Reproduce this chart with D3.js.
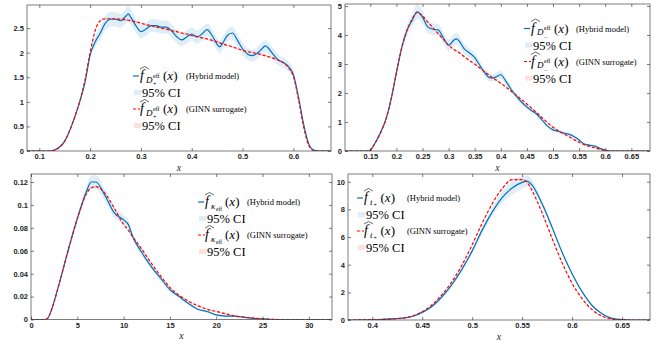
<!DOCTYPE html>
<html>
<head>
<meta charset="utf-8">
<script src="https://cdn.jsdelivr.net/npm/d3@7"></script>
<style>
  body { margin: 0; background: #fff; }
  svg { display: block; }
  .serif { font-family: "Liberation Serif", "Times New Roman", serif; }
  .tick text { font-family: "Liberation Sans", Arial, sans-serif; }
</style>
</head>
<body>
<svg id="chart" width="667" height="343"></svg>
<script>
// ---- panel 1 : D_eff+ ----
const p1X = [0.076,0.10,0.12,0.13,0.14,0.15,0.16,0.17,0.18,0.19, 0.20,0.21,0.22,0.23,0.24,0.25,0.26,0.27,0.275,0.28,
  0.29,0.30,0.31,0.32,0.33,0.34,0.35,0.36,0.37,0.38, 0.39,0.40,0.41,0.42,0.43,0.44,0.45,0.455,0.46,0.47,
  0.48,0.49,0.50,0.51,0.52,0.53,0.54,0.545,0.55,0.56, 0.57,0.58,0.59,0.60,0.61,0.62,0.63,0.64,0.65,0.674];
const p1Hybrid = [0,0,0,0.02,0.08,0.2,0.42,0.7,1.02,1.4, 1.95,2.22,2.4,2.6,2.68,2.68,2.65,2.74,2.79,2.72,
  2.55,2.43,2.48,2.55,2.55,2.52,2.52,2.45,2.33,2.26, 2.32,2.38,2.32,2.38,2.47,2.35,2.17,2.12,2.18,2.35,
  2.4,2.25,2.08,1.97,1.94,2.0,2.1,2.14,2.1,1.97, 1.85,1.8,1.72,1.55,1.1,0.55,0.15,0.02,0,0];
const p1Ginn = [0,0,0,0.02,0.08,0.2,0.42,0.7,1.02,1.45, 2.0,2.45,2.65,2.69,2.69,2.69,2.68,2.67,2.66,2.65,
  2.63,2.6,2.57,2.55,2.52,2.5,2.48,2.45,2.43,2.4, 2.38,2.35,2.33,2.3,2.28,2.25,2.22,2.2,2.18,2.15,
  2.12,2.08,2.05,2.02,2.0,1.98,1.95,1.94,1.92,1.89, 1.85,1.8,1.7,1.52,1.05,0.5,0.12,0.01,0,0];
const p1HybridCI = [0,0,0,0.01,0.02,0.03,0.04,0.05,0.06,0.07, 0.08,0.1,0.12,0.14,0.15,0.14,0.14,0.15,0.16,0.15,
  0.14,0.14,0.13,0.13,0.13,0.13,0.13,0.13,0.13,0.13, 0.13,0.13,0.13,0.13,0.13,0.13,0.13,0.13,0.13,0.13,
  0.13,0.13,0.12,0.12,0.12,0.12,0.12,0.12,0.12,0.12, 0.11,0.1,0.1,0.09,0.07,0.05,0.02,0.01,0,0];
const p1XTicks = [0.1,0.2,0.3,0.4,0.5,0.6];
const p1YTicks = [0,0.5,1,1.5,2,2.5];

// ---- panel 2 : D_eff- ----
const p2X = [0.1015,0.12,0.14,0.145,0.15,0.16,0.17,0.18,0.19,0.20, 0.21,0.22,0.23,0.24,0.25,0.26,0.27,0.28,0.29,0.30,
  0.31,0.315,0.32,0.33,0.34,0.35,0.36,0.37,0.38,0.39, 0.40,0.41,0.42,0.43,0.44,0.45,0.46,0.47,0.48,0.49,
  0.50,0.51,0.52,0.53,0.54,0.55,0.56,0.57,0.58,0.59, 0.60,0.61,0.685];
const p2Hybrid = [0,0,0,0,0.03,0.3,0.65,1.1,1.8,2.7, 3.55,4.15,4.5,4.8,4.62,4.28,4.2,4.18,3.9,3.65,
  3.82,3.87,3.8,3.52,3.38,3.22,2.95,2.68,2.52,2.55, 2.63,2.4,2.12,1.88,1.68,1.52,1.38,1.25,1.05,0.85,
  0.73,0.68,0.62,0.58,0.5,0.38,0.24,0.2,0.17,0.09, 0.03,0,0];
const p2Ginn = [0,0,0,0,0.03,0.3,0.65,1.1,1.8,2.7, 3.55,4.15,4.55,4.78,4.66,4.45,4.25,4.05,3.85,3.65,
  3.5,3.45,3.4,3.25,3.12,3.0,2.86,2.72,2.58,2.46, 2.34,2.2,2.06,1.92,1.77,1.62,1.46,1.3,1.13,0.97,
  0.82,0.7,0.6,0.5,0.4,0.3,0.22,0.16,0.11,0.06, 0.02,0,0];
const p2HybridCI = [0,0,0,0,0.02,0.05,0.08,0.1,0.12,0.15, 0.17,0.2,0.22,0.25,0.22,0.2,0.2,0.2,0.2,0.2,
  0.2,0.2,0.2,0.18,0.16,0.15,0.14,0.13,0.13,0.14, 0.15,0.12,0.1,0.08,0.07,0.07,0.06,0.06,0.06,0.06,
  0.06,0.06,0.06,0.06,0.05,0.05,0.04,0.04,0.03,0.02, 0.01,0,0];
const p2XTicks = [0.15,0.2,0.25,0.3,0.35,0.4,0.45,0.5,0.55,0.6,0.65];
const p2YTicks = [0,1,2,3,4,5];

// ---- panel 3 : kappa_eff ----
const p3X = [0,1,1.5,1.8,2,3,4,5,6,6.5, 7,8,9,10,10.5,11,12,13,14,15, 16,17,18,19,20,21,22,23,24,25, 26,27,28,32.5];
const p3Hybrid = [0,0,0,0.001,0.004,0.03,0.06,0.088,0.112,0.12, 0.12,0.108,0.093,0.087,0.083,0.072,0.058,0.046,0.036,0.026,
  0.02,0.014,0.009,0.007,0.004,0.003,0.003,0.002,0.001,0.0005, 0,0,0,0];
const p3Ginn = [0,0,0,0.001,0.004,0.03,0.06,0.088,0.11,0.115, 0.116,0.11,0.097,0.083,0.078,0.072,0.061,0.049,0.038,0.028,
  0.021,0.016,0.012,0.009,0.007,0.005,0.003,0.002,0.0012,0.0006, 0.0002,0,0,0];
const p3HybridCI = [0,0,0,0,0.001,0.002,0.003,0.004,0.005,0.006, 0.006,0.005,0.004,0.004,0.004,0.003,0.003,0.002,0.002,0.002,
  0.001,0.001,0.001,0.001,0.001,0.001,0.001,0.0005,0.0005,0, 0,0,0,0];
const p3XTicks = [0,5,10,15,20,25,30];
const p3YTicks = [0,0.02,0.04,0.06,0.08,0.1,0.12];

// ---- panel 4 : t+ ----
const p4X = [0.3757,0.40,0.41,0.42,0.43,0.44,0.45,0.46,0.47,0.48, 0.49,0.50,0.51,0.52,0.53,0.54,0.55,0.555,0.56,0.57,
  0.58,0.59,0.60,0.61,0.62,0.63,0.64,0.65,0.66,0.678];
const p4Hybrid = [0,0.01,0.04,0.08,0.13,0.25,0.55,1.0,1.7,2.6, 3.7,5.0,6.5,7.8,8.85,9.55,9.95,10.05,9.75,8.4,
  6.7,4.9,3.35,2.05,1.05,0.45,0.12,0.02,0,0];
const p4Ginn = [0,0.01,0.04,0.08,0.14,0.28,0.6,1.1,1.85,2.8, 4.0,5.45,7.0,8.4,9.5,10.15,10.15,9.95,9.35,7.75,
  5.9,4.15,2.65,1.55,0.75,0.28,0.07,0.01,0,0];
const p4HybridCI = [0,0,0.01,0.02,0.03,0.05,0.08,0.1,0.12,0.14, 0.16,0.2,0.25,0.3,0.4,0.5,0.45,0.4,0.35,0.25,
  0.2,0.15,0.12,0.1,0.07,0.04,0.02,0.01,0,0];
const p4XTicks = [0.4,0.45,0.5,0.55,0.6,0.65];
const p4YTicks = [0,2,4,6,8,10];

const legendDesc = ["(Hybrid model)", "(GINN surrogate)"];

const blue = "#0072BD", red = "#ff0000";
const axisColor = "#262626";

const panels = [
  {id: 1, xs: p1X, hy: p1Hybrid, gi: p1Ginn, ci: p1HybridCI, giCI: 0.02, xTicks: p1XTicks, yTicks: p1YTicks,
   xDomain: [0.0758, 0.674], yDomain: [0, 2.97], left: 27, right: 331, top: 5, bottom: 151,
   sub: "D+", lx: 133, ly: 76, descX: 53},
  {id: 2, xs: p2X, hy: p2Hybrid, gi: p2Ginn, ci: p2HybridCI, giCI: 0.03, xTicks: p2XTicks, yTicks: p2YTicks,
   xDomain: [0.1015, 0.6858], yDomain: [0, 5.07], left: 345, right: 650, top: 4, bottom: 151,
   sub: "D-", lx: 524, ly: 28.5, descX: 52},
  {id: 3, xs: p3X, hy: p3Hybrid, gi: p3Ginn, ci: p3HybridCI, giCI: 0.0008, xTicks: p3XTicks, yTicks: p3YTicks,
   xDomain: [0, 32.5], yDomain: [0, 0.127], left: 31, right: 332, top: 174, bottom: 319.5,
   sub: "k", lx: 198, ly: 202, descX: 49},
  {id: 4, xs: p4X, hy: p4Hybrid, gi: p4Ginn, ci: p4HybridCI, giCI: 0.06, xTicks: p4XTicks, yTicks: p4YTicks,
   xDomain: [0.3757, 0.678], yDomain: [0, 10.56], left: 348, right: 650, top: 174, bottom: 320,
   sub: "t", lx: 357, ly: 198, descX: 50}
];

const svg = d3.select("#chart");

function txt(g, x, y, size, s, italic) {
  return g.append("text").attr("class", "serif")
    .attr("x", x).attr("y", y)
    .style("font-size", size + "px")
    .style("font-style", italic ? "italic" : "normal")
    .text(s);
}

function fLabel(g, x0, yc, kind) {
  const base = yc + 4;
  txt(g, x0, base, 14, "f", true);
  g.append("path")
    .attr("d", `M${x0},${base - 11} L${x0 + 4.5},${base - 13.5} L${x0 + 9},${base - 11}`)
    .attr("fill", "none").attr("stroke", "#000").attr("stroke-width", 0.6);
  let xx = x0 + 6;
  if (kind === "D+" || kind === "D-") {
    txt(g, xx, base + 2.5, 9, "D", true);
    txt(g, xx + 7, base - 2.5, 6, "eff", false);
    txt(g, xx + 7, base + 6, 6, kind === "D+" ? "+" : "\u2212", false);
    xx += 16;
  } else if (kind === "k") {
    txt(g, xx, base + 2.5, 9, "\u03ba", true);
    txt(g, xx + 5, base + 4.5, 5.5, "eff", false);
    xx += 13;
  } else {
    txt(g, xx, base + 2.5, 9, "t", true);
    txt(g, xx + 3.5, base + 5, 6, "+", false);
    xx += 9.5;
  }
  const t = txt(g, xx + 1, base, 13, "", false);
  t.append("tspan").text("(");
  t.append("tspan").style("font-style", "italic").text("x");
  t.append("tspan").text(")");
}

function drawPanel(p) {
  const g = svg.append("g");
  const x = d3.scaleLinear(p.xDomain, [p.left, p.right]);
  const y = d3.scaleLinear(p.yDomain, [p.bottom, p.top]);

  const clipId = "clip" + p.id;
  svg.append("clipPath").attr("id", clipId).append("rect")
    .attr("x", p.left).attr("y", p.top)
    .attr("width", p.right - p.left).attr("height", p.bottom - p.top);

  const plot = g.append("g").attr("clip-path", `url(#${clipId})`);

  const halfAt = (half, vals, i) => Array.isArray(half) ? half[i] : (vals[i] > 0 ? half : 0);
  const band = (vals, half) => d3.area()
    .x((d, i) => x(p.xs[i]))
    .y0((d, i) => y(Math.max(0, vals[i] - halfAt(half, vals, i))))
    .y1((d, i) => y(vals[i] + halfAt(half, vals, i)))
    .curve(d3.curveMonotoneX);

  const line = vals => d3.line()
    .x((d, i) => x(p.xs[i]))
    .y((d, i) => y(vals[i]))
    .curve(d3.curveMonotoneX);

  plot.append("path").datum(p.xs)
    .attr("fill", blue).attr("fill-opacity", 0.13)
    .attr("d", band(p.hy, p.ci));
  plot.append("path").datum(p.xs)
    .attr("fill", red).attr("fill-opacity", 0.12)
    .attr("d", band(p.gi, p.giCI));

  plot.append("path").datum(p.xs)
    .attr("fill", "none").attr("stroke", blue).attr("stroke-width", 1.2)
    .attr("d", line(p.hy));
  plot.append("path").datum(p.xs)
    .attr("fill", "none").attr("stroke", red).attr("stroke-width", 1.2)
    .attr("stroke-dasharray", "3,2")
    .attr("d", line(p.gi));

  // axes, ticks pointing inward on all sides
  const fmt = d => String(d);
  const styleAxis = sel => {
    sel.select(".domain").remove();
    sel.selectAll("line").attr("stroke", axisColor).attr("stroke-width", 0.6);
    sel.selectAll("text").attr("fill", axisColor)
      .style("font-size", "7.5px").style("font-weight", "bold");
  };
  g.append("g").attr("transform", `translate(0,${p.bottom})`)
    .call(d3.axisBottom(x).tickValues(p.xTicks).tickFormat(fmt).tickSize(-3).tickPadding(3))
    .call(styleAxis);
  g.append("g").attr("transform", `translate(0,${p.top})`)
    .call(d3.axisTop(x).tickValues(p.xTicks).tickFormat("").tickSize(-3))
    .call(styleAxis);
  g.append("g").attr("transform", `translate(${p.left},0)`)
    .call(d3.axisLeft(y).tickValues(p.yTicks).tickFormat(fmt).tickSize(-3).tickPadding(3))
    .call(styleAxis);
  g.append("g").attr("transform", `translate(${p.right},0)`)
    .call(d3.axisRight(y).tickValues(p.yTicks).tickFormat("").tickSize(-3))
    .call(styleAxis);

  g.append("rect")
    .attr("x", p.left).attr("y", p.top)
    .attr("width", p.right - p.left).attr("height", p.bottom - p.top)
    .attr("fill", "none").attr("stroke", axisColor).attr("stroke-width", 0.6);

  txt(g, (p.left + p.right) / 2, p.bottom + 19.5, 10, "x", true)
    .attr("text-anchor", "middle").attr("fill", axisColor);

  // legend
  const lg = g.append("g");
  const rows = [0, 16.5, 33, 49.5];
  const lx = p.lx;

  lg.append("line").attr("x1", lx).attr("x2", lx + 6)
    .attr("y1", p.ly + rows[0]).attr("y2", p.ly + rows[0])
    .attr("stroke", blue).attr("stroke-width", 1.2);
  fLabel(lg, lx + 7, p.ly + rows[0], p.sub);
  txt(lg, lx + p.descX, p.ly + rows[0] + 3, 8.5, legendDesc[0], false);

  lg.append("rect").attr("x", lx + 1).attr("y", p.ly + rows[1] - 2.5)
    .attr("width", 7).attr("height", 5)
    .attr("fill", blue).attr("fill-opacity", 0.13);
  txt(lg, lx + 9, p.ly + rows[1] + 4.5, 12.5, "95% CI", false);

  lg.append("line").attr("x1", lx).attr("x2", lx + 7)
    .attr("y1", p.ly + rows[2]).attr("y2", p.ly + rows[2])
    .attr("stroke", red).attr("stroke-width", 1.2).attr("stroke-dasharray", "3,2");
  fLabel(lg, lx + 7, p.ly + rows[2], p.sub);
  txt(lg, lx + p.descX, p.ly + rows[2] + 3, 8.5, legendDesc[1], false);

  lg.append("rect").attr("x", lx + 1).attr("y", p.ly + rows[3] - 2.5)
    .attr("width", 7).attr("height", 5)
    .attr("fill", red).attr("fill-opacity", 0.12);
  txt(lg, lx + 9, p.ly + rows[3] + 4.5, 12.5, "95% CI", false);
}

panels.forEach(drawPanel);
</script>
</body>
</html>
